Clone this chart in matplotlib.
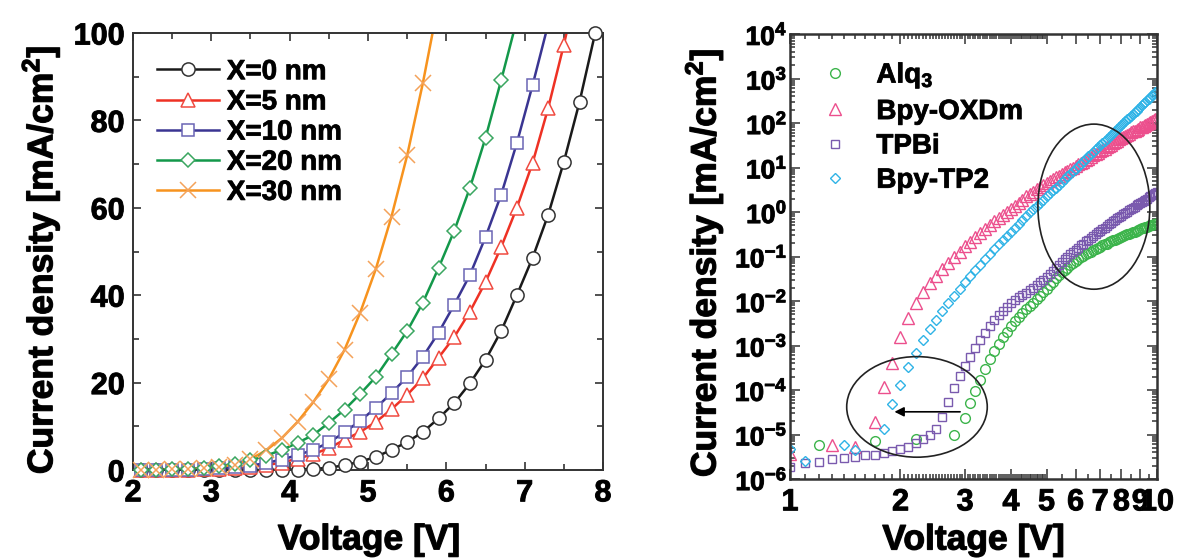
import numpy as np
import matplotlib
matplotlib.use("Agg")
import matplotlib.pyplot as plt
import matplotlib.patheffects as pe
from matplotlib.lines import Line2D
from matplotlib.patches import Ellipse
from matplotlib.ticker import FixedLocator, NullFormatter, LogLocator

plt.rcParams['font.family'] = ['Liberation Sans', 'DejaVu Sans']
plt.rcParams['font.weight'] = 'bold'
plt.rcParams['mathtext.fontset'] = 'custom'
plt.rcParams['mathtext.rm'] = 'Liberation Sans:bold'
plt.rcParams['mathtext.bf'] = 'Liberation Sans:bold'
plt.rcParams['mathtext.default'] = 'bf'

# ---- left panel: J-V, linear (markers every 0.2 V) ----
v_left = [2.1, 2.3, 2.5, 2.7, 2.9, 3.1, 3.3, 3.5, 3.7, 3.9,
          4.1, 4.3, 4.5, 4.7, 4.9, 5.1, 5.3, 5.5, 5.7, 5.9,
          6.1, 6.3, 6.5, 6.7, 6.9, 7.1, 7.3, 7.5, 7.7, 7.9]
j_x0 = [0.0, 0.0, 0.0, 0.0, 0.0, 0.0, 0.0, 0.0, 0.0, 0.02,
        0.1, 0.25, 0.5, 1.1, 1.9, 3.0, 4.6, 6.4, 8.7, 11.8,
        15.3, 19.8, 25.2, 31.8, 40.0, 48.5, 58.4, 70.5, 84.2, 100.0]
j_x5 = [0.02, 0.03, 0.05, 0.1, 0.15, 0.25, 0.4, 0.7, 1.1, 1.7,
        2.6, 3.6, 5.0, 6.9, 8.7, 11.0, 13.9, 17.2, 21.0, 25.7,
        30.4, 36.2, 43.0, 51.0, 60.0, 70.2, 82.8, 97.3, 113.0, np.nan]
j_x10 = [0.02, 0.03, 0.05, 0.1, 0.2, 0.35, 0.6, 1.0, 1.6, 2.4,
         3.4, 4.6, 6.3, 8.6, 11.3, 14.2, 17.6, 21.3, 25.9, 31.4,
         37.8, 44.6, 53.3, 63.0, 74.8, 88.0, 102.0, np.nan, np.nan, np.nan]
j_x20 = [0.05, 0.1, 0.2, 0.3, 0.5, 0.9, 1.4, 2.2, 3.3, 4.6,
         6.2, 8.0, 10.8, 13.8, 17.4, 21.3, 26.5, 31.8, 38.3, 46.2,
         54.7, 64.5, 76.0, 89.2, 103.0, np.nan, np.nan, np.nan, np.nan, np.nan]
j_x30 = [0.05, 0.1, 0.15, 0.25, 0.4, 0.7, 1.2, 2.5, 4.5, 7.3,
         11.0, 15.5, 20.8, 27.5, 36.0, 46.0, 58.0, 72.0, 88.5, 107.0,
         np.nan, np.nan, np.nan, np.nan, np.nan, np.nan, np.nan, np.nan, np.nan, np.nan]
left_labels = ['X=0 nm', 'X=5 nm', 'X=10 nm', 'X=20 nm', 'X=30 nm']

# ---- right panel: log J vs V (0.1 V steps), values stored as log10(J) ----
v_right = [1.0, 1.1, 1.2, 1.3, 1.4, 1.5, 1.6, 1.7, 1.8, 1.9,
           2.0, 2.1, 2.2, 2.3, 2.4, 2.5, 2.6, 2.7, 2.8, 2.9,
           3.0, 3.1, 3.2, 3.3, 3.4, 3.5, 3.6, 3.7, 3.8, 3.9,
           4.0, 4.1, 4.2, 4.3, 4.4, 4.5, 4.6, 4.7, 4.8, 4.9,
           5.0, 5.1, 5.2, 5.3, 5.4, 5.5, 5.6, 5.7, 5.8, 5.9,
           6.0, 6.1, 6.2, 6.3, 6.4, 6.5, 6.6, 6.7, 6.8, 6.9,
           7.0, 7.1, 7.2, 7.3, 7.4, 7.5, 7.6, 7.7, 7.8, 7.9,
           8.0, 8.1, 8.2, 8.3, 8.4, 8.5, 8.6, 8.7, 8.8, 8.9,
           9.0, 9.1, 9.2, 9.3, 9.4, 9.5, 9.6, 9.7, 9.8, 9.9, 10.0]
nan = np.nan
alq3_logj = [nan, nan, -5.24, nan, nan, nan, nan, -5.14, nan, nan,
             nan, nan, -5.11, nan, nan, nan, nan, nan, -5.01, nan,
             -4.64, -4.30, -4.02, -3.78, -3.53, -3.31, -3.12, -2.96, -2.82, -2.69,
             -2.57, -2.46, -2.36, -2.27, -2.19, -2.12, -2.04, -1.96, -1.88, -1.80,
             -1.72, -1.64, -1.57, -1.49, -1.42, -1.35, -1.30, -1.25, -1.20, -1.15,
             -1.10, -1.06, -1.02, -0.99, -0.95, -0.92, -0.89, -0.86, -0.83, -0.80,
             -0.78, -0.75, -0.73, -0.71, -0.68, -0.66, -0.64, -0.62, -0.60, -0.58,
             -0.56, -0.54, -0.52, -0.50, -0.49, -0.47, -0.45, -0.44, -0.42, -0.40,
             -0.39, -0.37, -0.36, -0.34, -0.33, -0.32, -0.30, -0.29, -0.27, -0.26, -0.25]
oxdm_logj = [-5.44, nan, nan, -5.24, nan, -5.27, nan, -4.71, -3.94, -3.40,
             -2.82, -2.38, -2.04, -1.80, -1.60, -1.43, -1.28, -1.14, -1.01, -0.89,
             -0.77, -0.67, -0.57, -0.47, -0.38, -0.29, -0.21, -0.14, -0.07, 0.00,
             0.07, 0.14, 0.21, 0.28, 0.35, 0.41, 0.46, 0.51, 0.56, 0.61,
             0.65, 0.69, 0.74, 0.78, 0.82, 0.86, 0.89, 0.93, 0.97, 1.00,
             1.03, 1.07, 1.10, 1.13, 1.16, 1.20, 1.23, 1.27, 1.30, 1.33,
             1.36, 1.39, 1.42, 1.45, 1.48, 1.51, 1.54, 1.57, 1.60, 1.63,
             1.66, 1.69, 1.71, 1.74, 1.76, 1.79, 1.81, 1.83, 1.85, 1.87,
             1.90, 1.92, 1.94, 1.96, 1.98, 2.00, 2.02, 2.04, 2.06, 2.08, 2.10]
tpbi_logj = [-5.72, -5.65, -5.61, -5.56, -5.53, -5.50, -5.46, -5.45, -5.41, -5.36,
             -5.33, -5.27, -5.20, -5.09, -5.00, -4.88, -4.60, -4.28, -3.95, -3.68,
             -3.46, -3.25, -3.06, -2.88, -2.71, -2.56, -2.43, -2.32, -2.22, -2.13,
             -2.05, -1.98, -1.92, -1.86, -1.81, -1.76, -1.70, -1.64, -1.58, -1.52,
             -1.46, -1.39, -1.32, -1.25, -1.18, -1.12, -1.06, -1.01, -0.95, -0.90,
             -0.85, -0.80, -0.75, -0.71, -0.66, -0.62, -0.58, -0.54, -0.50, -0.46,
             -0.42, -0.38, -0.35, -0.31, -0.28, -0.24, -0.21, -0.17, -0.14, -0.11,
             -0.08, -0.05, -0.02, 0.01, 0.04, 0.07, 0.10, 0.12, 0.15, 0.17,
             0.20, 0.23, 0.25, 0.28, 0.30, 0.33, 0.35, 0.38, 0.40, 0.43, 0.45]
tp2_logj = [-5.33, -5.59, nan, nan, -5.24, -5.35, nan, nan, -4.88, -4.31,
            -3.89, -3.49, -3.16, -2.88, -2.64, -2.43, -2.22, -2.05, -1.88, -1.73,
            -1.58, -1.44, -1.31, -1.18, -1.06, -0.95, -0.84, -0.73, -0.63, -0.53,
            -0.44, -0.35, -0.26, -0.17, -0.09, -0.01, 0.07, 0.14, 0.21, 0.28,
            0.35, 0.42, 0.49, 0.55, 0.61, 0.67, 0.74, 0.80, 0.85, 0.92,
            0.97, 1.03, 1.08, 1.14, 1.19, 1.25, 1.30, 1.35, 1.41, 1.45,
            1.50, 1.55, 1.60, 1.64, 1.69, 1.74, 1.78, 1.82, 1.87, 1.92,
            1.96, 2.00, 2.04, 2.08, 2.12, 2.16, 2.20, 2.25, 2.28, 2.32,
            2.36, 2.40, 2.44, 2.47, 2.51, 2.55, 2.58, 2.62, 2.65, 2.69, 2.72]
right_labels = ['Alq$_3$', 'Bpy-OXDm', 'TPBi', 'Bpy-TP2']

# slightly heavier strokes on text, the original uses a very bold face
heavy = [pe.withStroke(linewidth=0.9, foreground='#111111')]

fig = plt.figure(figsize=(11.78, 5.58), dpi=100)
ax1 = fig.add_axes([133 / 1178, 1 - 470 / 558, 470 / 1178, 437 / 558])
ax2 = fig.add_axes([790 / 1178, 1 - 479 / 558, 367 / 1178, 445 / 558])

# left panel
left_styles = [
    ('#1a1a1a', '#333333', 'o', 9.5),
    ('#ee3124', '#f04a40', '^', 10),
    ('#3a3592', '#6a64b4', 's', 8),
    ('#13984a', '#3aa660', 'D', 7),
    ('#f7931e', '#f4a25a', 'x', 11),
]
vl = np.array(v_left)
handles = []
for j, lab, (c, ec, m, ms) in zip([j_x0, j_x5, j_x10, j_x20, j_x30], left_labels, left_styles):
    j = np.array(j)
    ax1.plot(vl, j, color=c, lw=1.8, zorder=2)
    keep = j <= 100.5
    ax1.plot(vl[keep], j[keep], ls='none', marker=m, ms=ms, mfc='white' if m != 'x' else c,
             mec=ec, mew=1.1, clip_on=False, zorder=3)
    handles.append(Line2D([], [], color=c, lw=1.8, marker=m, ms=ms,
                          mfc='white' if m != 'x' else c, mec=ec, mew=1.1))

ax1.set_xlim(2, 8)
ax1.set_ylim(0, 100)
ax1.set_xticks([2, 3, 4, 5, 6, 7, 8])
ax1.set_yticks([0, 20, 40, 60, 80, 100])
ax1.xaxis.set_minor_locator(FixedLocator([2.5, 3.5, 4.5, 5.5, 6.5, 7.5]))
ax1.yaxis.set_minor_locator(FixedLocator([10, 30, 50, 70, 90]))
ax1.tick_params(which='both', direction='in', top=True, right=True, width=1.2, color='#333333')
ax1.tick_params(which='major', length=6, labelsize=22, pad=6)
ax1.tick_params(which='minor', length=4)
for s in ax1.spines.values():
    s.set_linewidth(1.4)
    s.set_color('#333333')
ax1.set_xlabel('Voltage [V]', fontsize=25.5, fontweight='bold', path_effects=heavy)
ax1.set_ylabel('Current density [mA/cm$^2$]', fontsize=25.5, fontweight='bold', path_effects=heavy)
ax1.xaxis.set_label_coords(0.502, -0.122)
ax1.yaxis.set_label_coords(-0.15, 0.48)
leg1 = ax1.legend(handles, left_labels, loc='upper left', bbox_to_anchor=(0.052, 0.94),
                  frameon=False, fontsize=20, handlelength=2.2, handletextpad=0.3,
                  labelspacing=0.15, borderpad=0, borderaxespad=0)
for t in leg1.get_texts():
    t.set_path_effects([pe.withStroke(linewidth=0.6, foreground='#111111')])

# right panel
right_styles = [
    ('#3cb44b', 'o', 7),
    ('#ec4f8d', '^', 8),
    ('#7a5aae', 's', 5.5),
    ('#2fb3e6', 'D', 5),
]
vr = np.array(v_right)
rhandles = []
for lj, (c, m, ms) in zip([alq3_logj, oxdm_logj, tpbi_logj, tp2_logj], right_styles):
    j = 10.0 ** np.array(lj)
    ax2.plot(vr, j, ls='none', marker=m, ms=ms, mfc='none', mec=c, mew=1.0)
    rhandles.append(Line2D([], [], ls='none', marker=m, ms=ms, mfc='none', mec=c, mew=1.0))

ax2.set_xscale('log')
ax2.set_yscale('log')
ax2.set_xlim(1, 10)
ax2.set_ylim(1e-6, 1e4)
ax2.set_xticks([1, 2, 3, 4, 5, 6, 7, 8, 9, 10])
ax2.set_xticklabels(['1', '2', '3', '4', '5', '6', '7', '8', '9', '10'])
xminor = list(np.arange(1.1, 2.0, 0.1)) + list(np.arange(2.05, 5.0, 0.05)) + [5.5, 6.5, 7.5, 8.5, 9.5]
ax2.xaxis.set_minor_locator(FixedLocator(xminor))
ax2.xaxis.set_minor_formatter(NullFormatter())
yt = [1e-6, 1e-5, 1e-4, 1e-3, 1e-2, 1e-1, 1e0, 1e1, 1e2, 1e3, 1e4]
ax2.set_yticks(yt)
ax2.set_yticklabels([r'$10^{%d}$' % e for e in range(-6, 5)])
ax2.yaxis.set_minor_locator(LogLocator(base=10, subs=np.arange(2, 10), numticks=100))
ax2.yaxis.set_minor_formatter(NullFormatter())
ax2.tick_params(which='both', direction='in', top=True, right=True, width=1.1, color='#333333')
ax2.tick_params(which='major', length=7)
ax2.tick_params(which='minor', length=3.5)
ax2.tick_params(axis='x', which='major', labelsize=22, pad=6)
ax2.tick_params(axis='y', which='major', labelsize=19, pad=2)
for s in ax2.spines.values():
    s.set_linewidth(1.8)
    s.set_color('#333333')
ax2.set_xlabel('Voltage [V]', fontsize=25.5, fontweight='bold', path_effects=heavy)
ax2.set_ylabel('Current density [mA/cm$^2$]', fontsize=25.5, fontweight='bold', path_effects=heavy)
ax2.xaxis.set_label_coords(0.5, -0.1)
ax2.yaxis.set_label_coords(-0.175, 0.485)
leg2 = ax2.legend(rhandles, right_labels, loc='upper left', bbox_to_anchor=(0.084, 0.94),
                  frameon=False, fontsize=20, handlelength=1.0, handletextpad=1.0,
                  labelspacing=0.3, borderpad=0, borderaxespad=0)
for t in leg2.get_texts():
    t.set_path_effects([pe.withStroke(linewidth=0.6, foreground='#111111')])

for ax in (ax1, ax2):
    for lbl in ax.get_xticklabels() + ax.get_yticklabels():
        lbl.set_path_effects([pe.withStroke(linewidth=0.7, foreground='#111111')])

# annotations: ellipses and arrow
ax2.add_patch(Ellipse((0.828, 0.612), 0.305, 0.371, transform=ax2.transAxes,
                      fill=False, lw=1.2, ec='#222222', zorder=4))
ax2.add_patch(Ellipse((0.346, 0.162), 0.383, 0.226, transform=ax2.transAxes,
                      fill=False, lw=1.2, ec='#222222', zorder=4))
ax2.annotate('', xy=(0.277, 0.151), xytext=(0.471, 0.151), xycoords='axes fraction',
             arrowprops=dict(arrowstyle='-|>', color='black', lw=1.2, mutation_scale=14))

fig.savefig('out.png', dpi=100)
